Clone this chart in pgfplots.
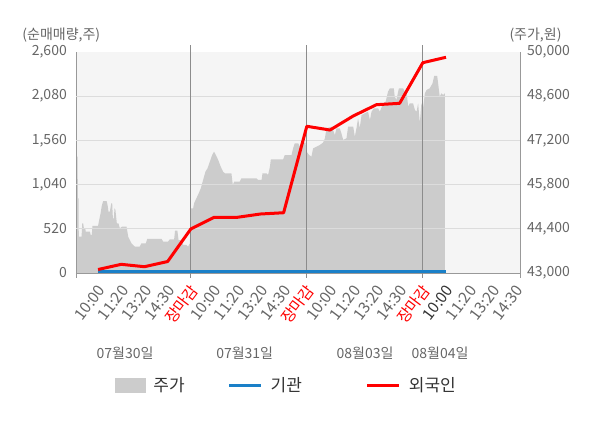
\documentclass[border=0pt]{standalone}
\usepackage{pgfplots}
\pgfplotsset{compat=1.18}
\usepackage{fontspec}
\setmainfont{Noto Sans CJK KR}
\definecolor{bgc}{HTML}{F5F5F5}
\definecolor{areac}{HTML}{CCCCCC}
\definecolor{gridc}{HTML}{DCDCDC}
\definecolor{axc}{HTML}{999999}
\definecolor{vlc}{HTML}{8C8C8C}
\definecolor{txtc}{HTML}{666666}
\definecolor{bluec}{HTML}{1A80C8}
\definecolor{redc}{HTML}{FF0000}
\definecolor{legc}{HTML}{333333}
\pgfplotsset{common/.style={at={(76pt,155pt)}, anchor=south west,
  width=444pt, height=221pt, scale only axis, xmin=0.05, xmax=19.19,
  scaled y ticks=false,
  /pgf/number format/1000 sep={,}, /pgf/number format/assume math mode=true,
  major tick length=0pt,
  tick label style={font=\fontsize{14}{16}\selectfont, text=txtc},
  axis line style={draw=axc, line width=0.8pt}}}
\begin{document}
\begin{tikzpicture}
\useasboundingbox (0,0) rectangle (600pt,428pt);
% price axis (right)
\begin{axis}[common, ymin=43000, ymax=50000,
  axis x line=none, axis y line*=right, xtick=\empty,
  ytick={43000,44400,45800,47200,48600,50000},
  yticklabel style={anchor=west, inner sep=0pt, xshift=7pt},
  axis background/.style={fill=bgc}]
\addplot[fill=areac, draw=none] coordinates {
(0.05,44995) (0.07,46684) (0.12,46684) (0.13,45366) (0.16,45366) (0.17,44150)
(0.29,44150) (0.32,44573) (0.36,44573) (0.39,44415) (0.45,44415) (0.47,44309)
(0.65,44309) (0.68,44204) (0.73,44204) (0.76,44489) (1.00,44489) (1.05,44679)
(1.11,44890) (1.16,45122) (1.22,45280) (1.37,45280) (1.41,45154) (1.45,44943)
(1.51,44943) (1.57,45207) (1.61,45207) (1.64,44731) (1.68,44731) (1.71,45048)
(1.75,44995) (1.81,44573) (1.88,44573) (1.94,44415) (2.03,44467) (2.23,44467)
(2.30,44150) (2.37,44045) (2.44,43940) (2.59,43834) (2.80,43834) (2.87,43940)
(3.06,43940) (3.12,44077) (3.74,44077) (3.81,43992) (4.02,43992) (4.09,44066)
(4.28,44066) (4.32,44341) (4.42,44341) (4.47,44045) (4.60,44045) (4.67,43887)
(4.81,43887) (4.88,43834) (4.96,43940)
(5.00,45048) (5.10,45048) (5.14,45207) (5.24,45366) (5.34,45524) (5.43,45683)
(5.53,45946) (5.63,46209) (5.72,46315) (5.82,46526) (5.92,46737) (6.00,46843)
(6.08,46737) (6.18,46579) (6.29,46367) (6.39,46209) (6.47,46156) (6.75,46156)
(6.81,45787) (6.87,45892) (7.11,45892) (7.18,45999) (7.83,45999) (7.90,45946)
(8.05,45946) (8.09,46156) (8.26,46156) (8.33,46104) (8.41,46367) (8.45,46600)
(8.98,46600) (9.05,46737) (9.34,46737) (9.41,46948) (9.48,47108) (9.63,47108)
(9.70,47000) (9.77,47213) (9.84,47129) (9.94,47129)
(9.99,46843) (10.10,46737) (10.20,46684) (10.27,46948) (10.42,47000) (10.56,47055)
(10.70,47129) (10.78,47266) (10.85,47583) (11.06,47635) (11.13,47530) (11.21,47371)
(11.28,47583) (11.42,47583) (11.49,47425) (11.57,47213) (11.71,47266) (11.78,47635)
(12.00,47635) (12.07,47319) (12.14,47583) (12.21,47900) (12.28,47583) (12.36,48004)
(12.50,48058) (12.64,48110) (12.72,47846) (12.79,48110) (12.89,48216) (13.07,48216)
(13.15,48110) (13.29,48375) (13.40,48427) (13.50,48743) (13.58,48850) (13.75,48850)
(13.79,48585) (13.86,48480) (13.97,48850) (14.15,48850) (14.22,48743) (14.30,48743)
(14.37,48268) (14.44,48375) (14.58,48375) (14.66,48163) (14.73,48110) (14.80,48375)
(14.87,47741) (14.94,48375)
(15.01,48216) (15.09,48691) (15.16,48796) (15.30,48850) (15.42,49008) (15.49,49240)
(15.62,49240) (15.66,49008) (15.73,48585) (15.80,48691) (15.88,48638) (15.95,48691)
} \closedcycle;
\end{axis}
% net buying axis (left)
\begin{axis}[common, ymin=0, ymax=2600,
  axis x line*=bottom, axis y line*=left, clip=false,
  ytick={0,520,1040,1560,2080,2600},
  yticklabel style={anchor=east, inner sep=0pt, xshift=-9pt},
  extra y ticks={520,1040,1560,2080}, extra y tick labels={},
  extra y tick style={grid=major, major grid style={draw=gridc, line width=0.8pt}},
  xtick={1,...,19},
  xticklabels={10:00,11:20,13:20,14:30,{\textcolor{redc}{장마감}},
    10:00,11:20,13:20,14:30,{\textcolor{redc}{장마감}},
    10:00,11:20,13:20,14:30,{\textcolor{redc}{장마감}},
    {\textcolor{legc}{10:00}},11:20,13:20,14:30},
  xticklabel style={font=\fontsize{15.5}{17}\selectfont, inner sep=0pt,
    xshift=3.7pt, yshift=-14pt, rotate=53, anchor=east},
  legend style={at={(axis description cs:0.0878,-0.507)}, anchor=west,
    draw=none, fill=none, inner sep=0pt, outer sep=0pt,
    font=\fontsize{17}{20}\selectfont, text=legc,
    /tikz/every odd column/.append style={column sep=8pt},
    /tikz/column 2/.append style={column sep=43pt},
    /tikz/column 4/.append style={column sep=64pt},
    nodes={inner sep=0pt}},
  legend columns=3, legend cell align=left]
\draw[vlc, line width=0.8pt] ([yshift=-5pt]axis cs:5,0) -- ([yshift=7pt]axis cs:5,2600);
\draw[vlc, line width=0.8pt] ([yshift=-5pt]axis cs:10,0) -- ([yshift=7pt]axis cs:10,2600);
\draw[vlc, line width=0.8pt] ([yshift=-5pt]axis cs:15,0) -- ([yshift=7pt]axis cs:15,2600);
\draw[axc, line width=0.8pt] ([yshift=-5pt]axis cs:0.05,0) -- (axis cs:0.05,0);
\draw[axc, line width=0.8pt] ([yshift=-5pt]axis cs:19.19,0) -- (axis cs:19.19,0);
\addlegendimage{legend image code/.code={\fill[areac] (0pt,-7pt) rectangle (30pt,7pt);}}
\addlegendentry{주가}
\addplot[bluec, line width=3pt,
  legend image code/.code={\draw[bluec, line width=3pt] (0pt,0pt) -- (32pt,0pt);}]
  coordinates {(1,12) (2,12) (3,12) (4,12) (5,12) (6,12) (7,12) (8,12)
  (9,12) (10,12) (11,12) (12,12) (13,12) (14,12) (15,12) (16,12)};
\addlegendentry{기관}
\addplot[redc, line width=3pt, line join=round,
  legend image code/.code={\draw[redc, line width=3pt] (0pt,0pt) -- (32pt,0pt);}]
  coordinates {(1,41) (2,102) (3,74) (4,135) (5,518) (6,655) (7,655) (8,694)
  (9,709) (10,1726) (11,1682) (12,1847) (13,1980) (14,1996) (15,2474) (16,2538)};
\addlegendentry{외국인}
\end{axis}
\node[font=\fontsize{14}{16}\selectfont, text=txtc] at (125pt,74.5pt) {07월30일};
\node[font=\fontsize{14}{16}\selectfont, text=txtc] at (244.7pt,74.5pt) {07월31일};
\node[font=\fontsize{14}{16}\selectfont, text=txtc] at (365pt,74.5pt) {08월03일};
\node[font=\fontsize{14}{16}\selectfont, text=txtc] at (440pt,74.5pt) {08월04일};
\node[font=\fontsize{14}{16}\selectfont, text=txtc] at (61.3pt,393.2pt) {(순매매량,주)};
\node[font=\fontsize{14}{16}\selectfont, text=txtc] at (535.5pt,393pt) {(주가,원)};
\end{tikzpicture}
\end{document}
